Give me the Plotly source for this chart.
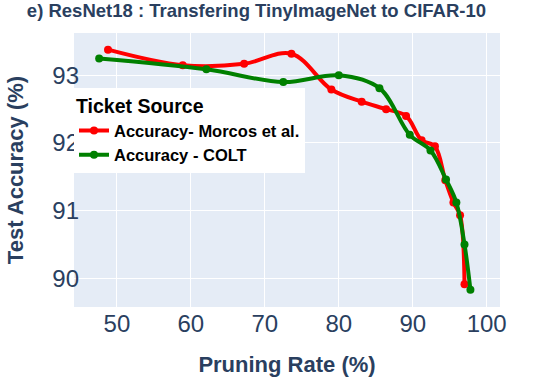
import plotly.graph_objects as go

# pruning rate (%) and test accuracy (%)
morcos_rate = [48.8, 58.9, 67.2, 73.6, 79.0, 83.1, 86.4, 89.1, 91.2, 93.0, 94.4, 95.5, 96.4, 97.0]
morcos_acc = [93.38, 93.15, 93.17, 93.32, 92.79, 92.61, 92.50, 92.40, 92.04, 91.95, 91.45, 91.12, 90.93, 89.91]

colt_rate = [47.6, 62.1, 72.5, 80.0, 85.5, 89.6, 92.4, 94.5, 95.9, 97.0, 97.8]
colt_acc = [93.25, 93.09, 92.90, 93.00, 92.81, 92.12, 91.89, 91.46, 91.12, 90.50, 89.83]

font = "Arial"

fig = go.Figure()
fig.add_trace(go.Scatter(x=morcos_rate, y=morcos_acc, mode="lines+markers",
                         name="<b>Accuracy- Morcos et al.</b>",
                         line=dict(color="red", width=4, shape="spline"),
                         marker=dict(size=8)))
fig.add_trace(go.Scatter(x=colt_rate, y=colt_acc, mode="lines+markers",
                         name="<b>Accuracy - COLT</b>",
                         line=dict(color="green", width=4, shape="spline"),
                         marker=dict(size=8)))

fig.update_layout(
    width=548, height=385,
    margin=dict(l=74, r=48, t=33, b=78),
    title=dict(text="<b>e) ResNet18 : Transfering TinyImageNet to CIFAR-10</b>",
               x=0.468, xanchor="center", y=0.99, yanchor="top",
               font=dict(family=font, size=18.5, color="#2a3f5f")),
    font=dict(family=font, color="#2a3f5f"),
    legend=dict(title=dict(text="<b>Ticket Source</b>", font=dict(size=19.5, color="black")),
                font=dict(size=16.5, color="black"),
                x=0, y=0.80, xanchor="left", yanchor="top",
                bgcolor="white"),
    xaxis=dict(title=dict(text="<b>Pruning Rate (%)</b>", font=dict(size=22), standoff=20),
               range=[44.2, 101.8], tickvals=[50, 60, 70, 80, 90, 100],
               tickfont=dict(size=24), automargin=False),
    yaxis=dict(title=dict(text="<b>Test Accuracy (%)</b>", font=dict(size=22), standoff=22),
               range=[89.575, 93.626], tickvals=[90, 91, 92, 93],
               tickfont=dict(size=24), automargin=False, ticklabelstandoff=-6),
)

# drop the page's default body margin so the figure sits at the window corner
fig.write_html("out.html", config={"displayModeBar": False},
               post_script="document.body.style.margin='0';")
